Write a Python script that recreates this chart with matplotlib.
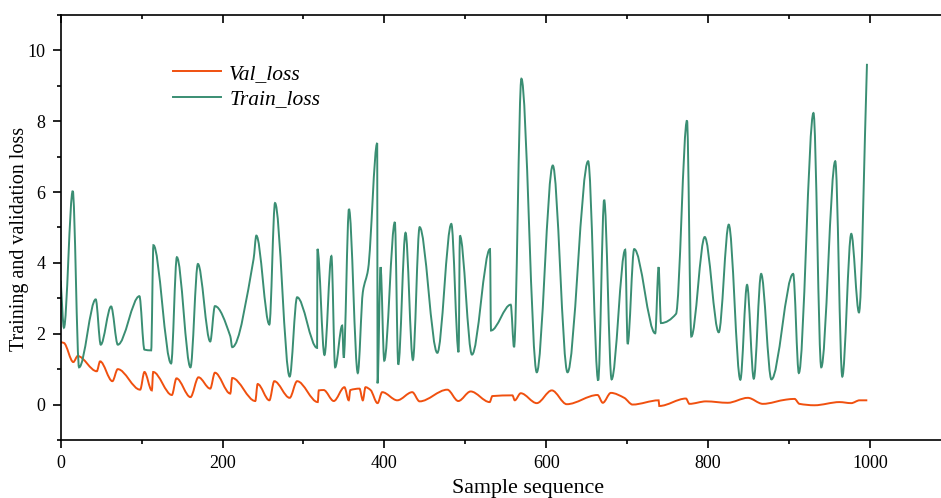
import numpy as np
import matplotlib
matplotlib.use("Agg")
import matplotlib.pyplot as plt
from matplotlib.path import Path
from matplotlib.patches import PathPatch
from matplotlib.lines import Line2D
from matplotlib.ticker import MultipleLocator

plt.rcParams["font.family"] = ["Liberation Serif", "DejaVu Serif"]

# values (turning points of each curve)
train_x = [0, 4, 14.9, 22.7, 43.3, 49.5, 62.3, 70.6, 97.3, 103.5, 111.8, 114.6,
           136.5, 143.6, 160.4, 169.6, 184.8, 190.6, 209.6, 212, 238.4, 241.8,
           257.9, 264.9, 283, 292.2, 316.9, 317.3, 326, 334.6, 339.2, 347.9,
           349.8, 356.3, 367.2, 373.4, 380, 391.2, 391.6, 395.3, 399.9, 413,
           417.2, 426.2, 435.3, 443.6, 465.5, 482.8, 491.8, 493.4, 508.3, 530.6,
           531.8, 556.2, 560.3, 569.4, 588.4, 608.2, 626.4, 651.9, 664.3, 671.7,
           680.9, 697.7, 700.7, 708.8, 734.8, 739, 741.9, 760.5, 774.1, 779.4,
           796, 813.3, 825.7, 840, 848.3, 856.6, 865.7, 878.4, 905.3, 912.3,
           930.4, 940, 957.3, 966, 977.1, 986.6, 996.5]
train_loss = [3.5, 2.17, 6.03, 1.05, 2.97, 1.69, 2.77, 1.69, 3.06, 1.55, 1.53, 4.5,
              1.16, 4.16, 1.05, 3.97, 1.78, 2.78, 1.93, 1.62, 4.11, 4.77,
              2.26, 5.69, 0.79, 3.03, 1.6, 4.39, 1.4, 4.19, 1.05, 2.23,
              1.32, 5.52, 0.89, 3.17, 3.83, 7.38, 0.6, 3.88, 1.24, 5.15,
              1.13, 4.85, 1.26, 5.01, 1.46, 5.1, 1.48, 4.77, 1.41, 4.39,
              2.09, 2.82, 1.62, 9.2, 0.91, 6.75, 0.91, 6.87, 0.68, 5.78,
              0.71, 4.37, 1.71, 4.39, 2.01, 3.88, 2.3, 2.56, 8.02, 1.92,
              4.73, 2.04, 5.08, 0.7, 3.38, 0.73, 3.69, 0.71, 3.69, 0.89,
              8.23, 1.05, 6.87, 0.79, 4.82, 2.6, 9.62]

val_x = [0, 4, 15.6, 21, 44.6, 48.7, 63.9, 70.5, 98.2, 103.5, 112.6, 114.3,
         137.4, 143.1, 160.4, 170.3, 184.8, 190.6, 209.6, 212, 240.5, 243.4,
         257.9, 264, 283, 292.2, 317.7, 319, 325, 337.5, 350.7, 356, 358,
         369.3, 373.4, 376.7, 383, 391.6, 397.4, 416, 434.5, 443.6, 477.8,
         491.4, 506.7, 530.2, 533.5, 558.3, 561.2, 568.6, 588.4, 607, 625.5,
         663.5, 670, 680, 696.5, 706.8, 739, 739.8, 772.8, 777, 797.6, 824.4,
         849.2, 867.8, 896.6, 907, 913, 931.6, 962.6, 977, 987.4, 996.9]
val_loss = [1.76, 1.74, 1.2, 1.37, 0.94, 1.22, 0.66, 1.0, 0.42, 0.92, 0.4, 0.92,
            0.27, 0.74, 0.21, 0.77, 0.45, 0.9, 0.31, 0.75, 0.1, 0.58,
            0.12, 0.66, 0.19, 0.66, 0.07, 0.4, 0.41, 0.1, 0.49, 0.12, 0.41,
            0.45, 0.12, 0.49, 0.41, 0.04, 0.35, 0.12, 0.35, 0.09, 0.42,
            0.1, 0.37, 0.07, 0.24, 0.26, 0.12, 0.32, 0.04, 0.4, 0.01,
            0.27, 0.05, 0.33, 0.19, 0.0, 0.12, -0.04, 0.17, 0.02, 0.09, 0.05,
            0.19, 0.02, 0.14, 0.16, 0.02, -0.02, 0.07, 0.04, 0.12, 0.12]


def smooth_path(x, y):
    # cubic bezier through the read points, flat tangents at turning points
    x = np.asarray(x, float)
    y = np.asarray(y, float)
    d = np.diff(y) / np.diff(x)
    m = np.zeros_like(y)
    m[0], m[-1] = d[0], d[-1]
    for i in range(1, len(y) - 1):
        if d[i - 1] * d[i] > 0:
            m[i] = 2.0 / (1.0 / d[i - 1] + 1.0 / d[i])
    verts = [(x[0], y[0])]
    codes = [Path.MOVETO]
    for i in range(len(x) - 1):
        h = x[i + 1] - x[i]
        verts += [(x[i] + h / 3, y[i] + m[i] * h / 3),
                  (x[i + 1] - h / 3, y[i + 1] - m[i + 1] * h / 3),
                  (x[i + 1], y[i + 1])]
        codes += [Path.CURVE4] * 3
    return Path(verts, codes)


val_color = "#F0500F"
train_color = "#3A8E73"

fig = plt.figure(figsize=(9.41, 4.98), dpi=100)
ax = fig.add_axes([0.0645, 0.1165, 0.9355, 0.8535])

ax.add_patch(PathPatch(smooth_path(val_x, val_loss), fill=False,
                       edgecolor=val_color, lw=1.4))
ax.add_patch(PathPatch(smooth_path(train_x, train_loss), fill=False,
                       edgecolor=train_color, lw=1.4))

ax.set_xlim(0, 1088)
ax.set_ylim(-1, 11)
ax.xaxis.set_major_locator(MultipleLocator(200))
ax.xaxis.set_minor_locator(MultipleLocator(100))
ax.yaxis.set_major_locator(MultipleLocator(2))
ax.yaxis.set_minor_locator(MultipleLocator(1))

ax.spines["right"].set_visible(False)
for s in ["left", "bottom", "top"]:
    ax.spines[s].set_linewidth(1.2)
ax.tick_params(axis="both", which="major", direction="out", length=6,
               width=1.2, labelsize=13, pad=5)
ax.tick_params(axis="both", which="minor", direction="out", length=3, width=1.2)
ax.tick_params(axis="x", which="both", top=False)

# top ticks point into the plot
secx = ax.secondary_xaxis("top")
secx.xaxis.set_major_locator(MultipleLocator(200))
secx.xaxis.set_minor_locator(MultipleLocator(100))
secx.tick_params(which="major", direction="in", length=6, width=1.2, labeltop=False)
secx.tick_params(which="minor", direction="in", length=3, width=1.2)
secx.spines["top"].set_visible(False)

ax.set_xlabel("Sample sequence", fontsize=15.8, va="center")
ax.xaxis.set_label_coords(0.531, -0.113)
ax.set_ylabel("Training and validation loss", fontsize=14.5, va="center")
ax.yaxis.set_label_coords(-0.047, 0.473)

handles = [Line2D([], [], color=val_color, lw=1.4),
           Line2D([], [], color=train_color, lw=1.4)]
leg = ax.legend(handles, ["Val_loss", "Train_loss"], loc="upper left",
                bbox_to_anchor=(0.128, 0.885), frameon=False, borderpad=0,
                borderaxespad=0, handlelength=2.2, handletextpad=0.4,
                labelspacing=0.25, prop={"style": "italic", "size": 15.5})

fig.savefig("out.png", dpi=100)
